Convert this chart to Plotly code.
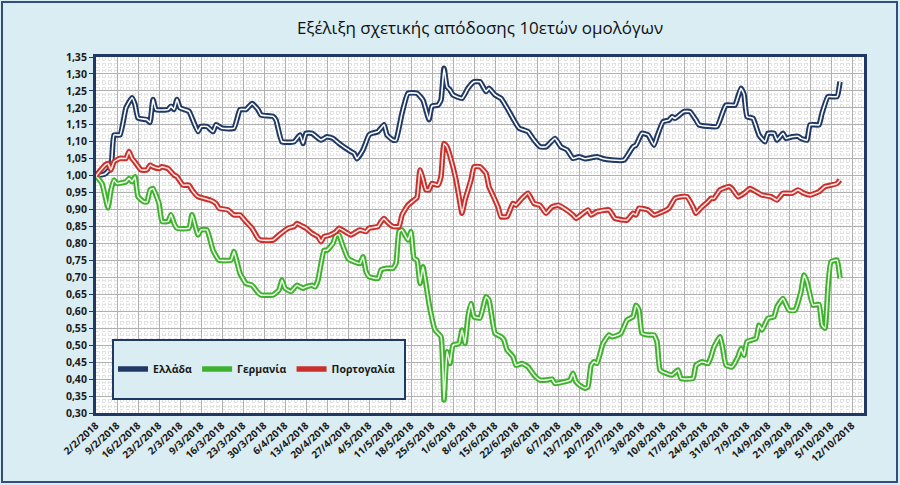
import plotly.graph_objects as go
import pandas as pd

# ---------------- data ----------------
base_date = "2018-02-02"

tick_labels = ["2/2/2018", "9/2/2018", "16/2/2018", "23/2/2018", "2/3/2018", "9/3/2018",
               "16/3/2018", "23/3/2018", "30/3/2018", "6/4/2018", "13/4/2018", "20/4/2018",
               "27/4/2018", "4/5/2018", "11/5/2018", "18/5/2018", "25/5/2018", "1/6/2018",
               "8/6/2018", "15/6/2018", "22/6/2018", "29/6/2018", "6/7/2018", "13/7/2018",
               "20/7/2018", "27/7/2018", "3/8/2018", "10/8/2018", "17/8/2018", "24/8/2018",
               "31/8/2018", "7/9/2018", "14/9/2018", "21/9/2018", "28/9/2018", "5/10/2018",
               "12/10/2018"]

# days after 2/2/2018
greece_day = [0, 3, 5, 6, 8, 10, 12, 13, 14, 17, 18, 19, 20, 24, 25, 26, 27, 28, 31, 32, 34, 35,
              37, 39, 40, 42, 46, 48, 50, 52, 54, 55, 59, 60, 62, 66, 68, 69, 70, 72, 75, 77, 79,
              81, 85, 86, 87, 89, 91, 92, 94, 96, 97, 99, 100, 102, 104, 107, 109, 111, 112, 114,
              115, 116, 117, 118, 119, 122, 124, 126, 128, 130, 131, 133, 135, 137, 141, 144,
              146, 148, 150, 153, 155, 157, 159, 161, 163, 167, 169, 172, 176, 179, 180, 182,
              184, 186, 187, 189, 191, 192, 193, 196, 198, 200, 201, 207, 209, 210, 213, 214,
              215, 216, 217, 219, 221, 223, 224, 226, 227, 229, 230, 232, 234, 235, 237, 238,
              241, 242, 244, 247, 248]
greece_val = [1.00, 1.005, 1.025, 1.12, 1.12, 1.20, 1.23, 1.21, 1.17, 1.165, 1.157, 1.225, 1.195,
              1.195, 1.205, 1.195, 1.225, 1.20, 1.19, 1.17, 1.13, 1.145, 1.145, 1.13, 1.15, 1.14,
              1.14, 1.195, 1.195, 1.213, 1.195, 1.179, 1.175, 1.164, 1.10, 1.10, 1.12, 1.095,
              1.125, 1.125, 1.105, 1.115, 1.11, 1.095, 1.071, 1.066, 1.05, 1.076, 1.12, 1.125,
              1.13, 1.15, 1.12, 1.105, 1.105, 1.184, 1.243, 1.243, 1.223, 1.165, 1.205, 1.208,
              1.223, 1.317, 1.262, 1.253, 1.238, 1.228, 1.258, 1.277, 1.277, 1.248, 1.258, 1.238,
              1.228, 1.20, 1.14, 1.13, 1.105, 1.085, 1.085, 1.11, 1.085, 1.076, 1.051, 1.056,
              1.05, 1.056, 1.05, 1.046, 1.046, 1.085, 1.09, 1.125, 1.12, 1.09, 1.115, 1.159,
              1.164, 1.174, 1.169, 1.189, 1.189, 1.164, 1.15, 1.145, 1.189, 1.208, 1.208, 1.233,
              1.258, 1.24, 1.174, 1.169, 1.12, 1.10, 1.125, 1.125, 1.105, 1.125, 1.11, 1.115,
              1.116, 1.11, 1.105, 1.15, 1.15, 1.184, 1.233, 1.233, 1.277]

germany_day = [0, 2, 4, 5, 6, 7, 10, 11, 12, 13, 14, 16, 17, 18, 19, 21, 22, 24, 25, 26, 27, 31,
               32, 34, 35, 37, 39, 41, 45, 46, 48, 50, 52, 54, 55, 59, 61, 62, 63, 65, 66, 67, 69,
               70, 72, 73, 74, 76, 77, 79, 80, 81, 82, 84, 86, 88, 89, 90, 91, 94, 95, 97, 99,
               100, 101, 102, 104, 105, 106, 107, 108, 109, 110, 111, 113, 115, 116, 117, 118,
               119, 121, 122, 123, 124, 125, 126, 128, 130, 131, 133, 135, 136, 137, 139, 140,
               142, 144, 146, 148, 150, 152, 153, 156, 158, 159, 160, 162, 163, 164, 165, 166,
               167, 169, 171, 172, 174, 175, 177, 179, 180, 181, 182, 184, 186, 187, 188, 190,
               192, 194, 195, 199, 200, 202, 204, 205, 206, 208, 209, 210, 212, 214, 215, 216,
               217, 220, 221, 222, 224, 226, 227, 229, 231, 233, 235, 236, 237, 239, 241, 242,
               243, 244, 245, 247, 248]
germany_val = [1.00, 0.977, 0.905, 0.958, 0.987, 0.977, 0.982, 0.992, 0.982, 0.997, 0.938, 0.923,
               0.923, 0.958, 0.962, 0.918, 0.865, 0.865, 0.885, 0.86, 0.845, 0.845, 0.885, 0.825,
               0.84, 0.84, 0.78, 0.751, 0.751, 0.776, 0.712, 0.682, 0.677, 0.655, 0.648, 0.648,
               0.663, 0.692, 0.668, 0.658, 0.668, 0.677, 0.668, 0.672, 0.677, 0.672, 0.692, 0.78,
               0.78, 0.80, 0.825, 0.825, 0.80, 0.756, 0.746, 0.741, 0.761, 0.717, 0.702, 0.697,
               0.722, 0.727, 0.727, 0.741, 0.835, 0.84, 0.81, 0.835, 0.756, 0.751, 0.682, 0.731,
               0.68, 0.623, 0.545, 0.525, 0.338, 0.481, 0.446, 0.50, 0.505, 0.545, 0.505, 0.584,
               0.623, 0.584, 0.58, 0.643, 0.633, 0.535, 0.525, 0.515, 0.486, 0.466, 0.441, 0.446,
               0.436, 0.412, 0.397, 0.397, 0.40, 0.387, 0.392, 0.397, 0.417, 0.392, 0.377, 0.373,
               0.377, 0.44, 0.451, 0.446, 0.505, 0.53, 0.525, 0.53, 0.535, 0.574, 0.584, 0.618,
               0.604, 0.535, 0.53, 0.53, 0.51, 0.427, 0.417, 0.412, 0.427, 0.402, 0.402, 0.441,
               0.451, 0.446, 0.466, 0.495, 0.525, 0.486, 0.441, 0.436, 0.466, 0.49, 0.47, 0.51,
               0.52, 0.559, 0.545, 0.579, 0.584, 0.613, 0.638, 0.603, 0.603, 0.658, 0.707, 0.687,
               0.618, 0.62, 0.559, 0.55, 0.672, 0.746, 0.751, 0.697]

portugal_day = [0, 3, 4, 5, 6, 8, 10, 11, 12, 13, 15, 17, 18, 19, 21, 22, 24, 26, 27, 29, 31, 32,
                34, 36, 38, 40, 41, 44, 46, 48, 50, 52, 54, 55, 59, 61, 64, 66, 67, 69, 70, 72,
                74, 75, 76, 78, 80, 81, 83, 85, 86, 88, 90, 91, 94, 95, 96, 97, 99, 101, 102, 104,
                106, 107, 108, 109, 110, 111, 112, 114, 115, 116, 117, 119, 120, 121, 122, 123,
                125, 126, 128, 130, 131, 132, 134, 135, 137, 139, 140, 142, 144, 146, 148, 150,
                152, 154, 156, 159, 160, 164, 165, 167, 171, 173, 177, 179, 180, 181, 184, 186,
                189, 191, 193, 195, 197, 199, 200, 202, 204, 205, 206, 208, 211, 212, 214, 216,
                218, 220, 222, 225, 227, 229, 232, 234, 236, 238, 241, 243, 245, 247, 248]
portugal_val = [1.00, 1.031, 1.036, 1.017, 1.041, 1.051, 1.051, 1.071, 1.051, 1.04, 1.017, 1.017,
                1.031, 1.026, 1.021, 1.026, 1.021, 1.002, 0.997, 0.972, 0.972, 0.958, 0.938,
                0.933, 0.928, 0.918, 0.904, 0.899, 0.884, 0.884, 0.864, 0.845, 0.815, 0.81, 0.81,
                0.825, 0.845, 0.85, 0.859, 0.85, 0.845, 0.83, 0.82, 0.805, 0.82, 0.825, 0.835,
                0.845, 0.835, 0.825, 0.83, 0.84, 0.835, 0.845, 0.85, 0.864, 0.874, 0.864, 0.85,
                0.85, 0.884, 0.913, 0.928, 0.935, 1.017, 0.99, 0.958, 0.958, 0.977, 0.972, 0.997,
                1.095, 1.085, 1.026, 0.987, 0.938, 0.889, 0.928, 0.987, 1.026, 1.026, 1.007,
                0.967, 0.948, 0.908, 0.879, 0.879, 0.918, 0.913, 0.933, 0.948, 0.918, 0.913,
                0.889, 0.908, 0.913, 0.904, 0.884, 0.874, 0.899, 0.884, 0.894, 0.899, 0.874,
                0.869, 0.889, 0.884, 0.904, 0.899, 0.884, 0.894, 0.904, 0.933, 0.938, 0.938,
                0.908, 0.889, 0.908, 0.923, 0.933, 0.933, 0.958, 0.968, 0.962, 0.938, 0.948,
                0.962, 0.953, 0.943, 0.938, 0.928, 0.948, 0.948, 0.958, 0.948, 0.943, 0.953,
                0.968, 0.972, 0.977, 0.987]

series_names = ["Ελλάδα", "Γερμανία", "Πορτογαλία"]
outer_colors = ["#1F3864", "#3FB12F", "#C9302C"]
inner_colors = ["#FFFFFF", "#E9F9E4", "#FCE6E4"]

# ---------------- figure ----------------
base = pd.Timestamp(base_date)
to_dates = lambda days: [base + pd.Timedelta(days=d) for d in days]
tick_dates = pd.to_datetime(tick_labels, format="%d/%m/%Y")

fig = go.Figure()
all_days = [greece_day, germany_day, portugal_day]
all_vals = [greece_val, germany_val, portugal_val]
for name, days, vals, oc, ic in zip(series_names, all_days, all_vals, outer_colors, inner_colors):
    x = to_dates(days)
    fig.add_trace(go.Scatter(x=x, y=vals, mode="lines", name=name, legendgroup=name,
                             line=dict(color=oc, width=5.5, shape="spline", smoothing=0.4),
                             hoverinfo="skip"))
    fig.add_trace(go.Scatter(x=x, y=vals, mode="lines", name=name, legendgroup=name,
                             showlegend=False,
                             line=dict(color=ic, width=1.6, shape="spline", smoothing=0.4),
                             hoverinfo="skip"))

navy = "#1F3864"
x_range = ["2018-02-02", "2018-10-16"]
L, R, T, B = 96, 36, 57, 72
W, H = 900, 485
pw, ph = W - L - R, H - T - B
px = lambda p: (p - L) / pw
py = lambda p: (H - B - p) / ph
one_pos = (1.00 - 0.30) / (1.35 - 0.30)

fig.update_layout(
    width=W, height=H,
    margin=dict(l=L, r=R, t=T, b=B),
    paper_bgcolor="#DAEDF3",
    plot_bgcolor="#FFFFFF",
    separators=",.",
    title=dict(text="Εξέλιξη σχετικής απόδοσης 10ετών ομολόγων",
               x=0.5, xref="paper", xanchor="center", y=1 - 28 / H, yanchor="middle",
               font=dict(family="Open Sans", size=17, color="#111111", weight=500)),
    showlegend=True,
    legend=dict(orientation="h", x=px(113), y=py(369), xanchor="left", yanchor="middle",
                bgcolor="rgba(0,0,0,0)", borderwidth=0, itemwidth=30,
                font=dict(family="Open Sans", size=10.5, color="#1A1A1A", weight="bold")),
    xaxis=dict(type="date", range=x_range, tickvals=tick_dates, ticktext=tick_labels,
               tickangle=-42, ticks="", showline=True, linecolor=navy, linewidth=3,
               mirror=True, showgrid=True, gridcolor="#B0B0B0", gridwidth=1,
               tickfont=dict(family="Open Sans", size=10, color="#1A1A1A", weight="bold"),
               minor=dict(dtick=86400000, tick0="2018-02-02", showgrid=True,
                          gridcolor="#E2E2E2", griddash="dot", gridwidth=1),
               zeroline=False),
    xaxis2=dict(type="date", range=x_range, overlaying="x", anchor="free", position=one_pos,
                tickvals=tick_dates, showticklabels=False, ticks="outside", ticklen=4,
                tickcolor=navy, tickwidth=1.5, showline=True, linecolor=navy, linewidth=2,
                showgrid=False, zeroline=False, layer="below traces"),
    xaxis3=dict(type="date", range=x_range, overlaying="x", anchor="free", position=one_pos,
                tickvals=tick_dates, showticklabels=False, ticks="inside", ticklen=4,
                tickcolor=navy, tickwidth=1.5, showline=False,
                showgrid=False, zeroline=False, layer="below traces"),
    yaxis=dict(range=[0.30, 1.35], dtick=0.05, tick0=0.30, tickformat=".2f",
               ticks="outside", ticklen=4, tickcolor=navy, showline=True, linecolor=navy,
               linewidth=3, mirror=True, showgrid=True, gridcolor="#B0B0B0", gridwidth=1,
               tickfont=dict(family="Open Sans", size=10.5, color="#1A1A1A", weight="bold"),
               minor=dict(dtick=0.01, showgrid=True, gridcolor="#E2E2E2", griddash="dot",
                          gridwidth=1),
               zeroline=False),
    shapes=[
        # legend box
        dict(type="rect", xref="paper", yref="paper", x0=px(113), x1=px(405), y0=py(399),
             y1=py(340), fillcolor="#DAEDF3", line=dict(color=navy, width=2), layer="above"),
        # outer frame of the picture
        dict(type="rect", xref="paper", yref="paper", x0=px(2), x1=px(897), y0=py(482),
             y1=py(2), fillcolor="rgba(0,0,0,0)", line=dict(color="#2F4F7F", width=2),
             layer="above"),
    ],
)

fig.write_html("out.html")
